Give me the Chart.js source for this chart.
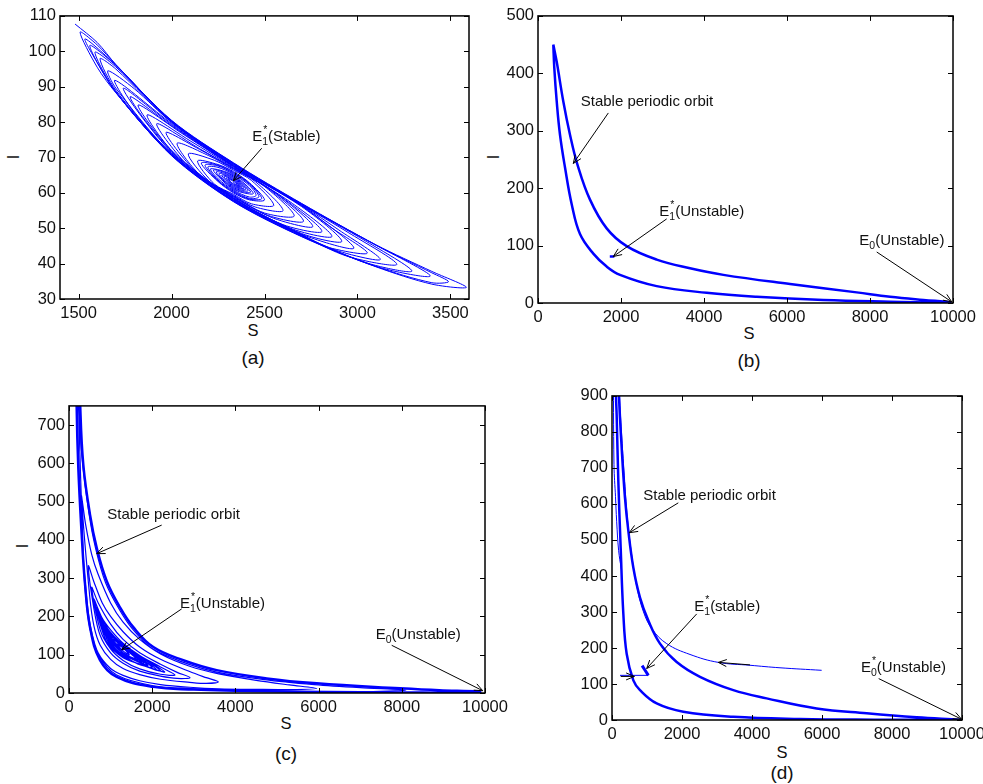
<!DOCTYPE html>
<html lang="en">
<head>
<meta charset="UTF-8" />
<title>S-I phase portraits</title>
<script src="https://cdn.jsdelivr.net/npm/chart.js"></script>
<style>
  body { margin: 0; background: #fff; font-family: "Liberation Sans", Arial, sans-serif; }
  #page { position: relative; width: 983px; height: 784px; overflow: hidden; }
  .panel { position: absolute; }
  .lbl { position: absolute; font-size: 16.5px; color: #111; transform: translate(-50%, -50%); white-space: nowrap; }
  .ylbl { transform: translate(-50%, -50%) rotate(-90deg); }
  .cap { position: absolute; font-size: 19px; color: #111; transform: translate(-50%, -50%); }
</style>
</head>
<body>
<div id="page">
  <div class="lbl" style="left:253px;top:330px">S</div>
  <div class="lbl ylbl" style="left:13px;top:157px">I</div>
  <div class="cap" style="left:253px;top:358px">(a)</div>

  <div class="lbl" style="left:749px;top:333px">S</div>
  <div class="lbl ylbl" style="left:493px;top:157px">I</div>
  <div class="cap" style="left:749px;top:361px">(b)</div>

  <div class="lbl" style="left:286px;top:723px">S</div>
  <div class="lbl ylbl" style="left:22px;top:546px">I</div>
  <div class="cap" style="left:286px;top:754px">(c)</div>

  <div class="lbl" style="left:782px;top:752px">S</div>
  <div class="cap" style="left:782px;top:773px">(d)</div>
</div>

<script>
  // ---- axes ----
  const aRangeS = [1400, 3600], aRangeI = [30, 110];
  const aTicksS = [1500, 2000, 2500, 3000, 3500];
  const aTicksI = [30, 40, 50, 60, 70, 80, 90, 100, 110];

  const bRangeS = [0, 10000], bRangeI = [0, 500];
  const bTicksS = [0, 2000, 4000, 6000, 8000, 10000];
  const bTicksI = [0, 100, 200, 300, 400, 500];

  const cRangeS = [0, 10000], cRangeI = [0, 750];
  const cTicksS = [0, 2000, 4000, 6000, 8000, 10000];
  const cTicksI = [0, 100, 200, 300, 400, 500, 600, 700];

  const dRangeS = [0, 10000], dRangeI = [0, 900];
  const dTicksS = [0, 2000, 4000, 6000, 8000, 10000];
  const dTicksI = [0, 100, 200, 300, 400, 500, 600, 700, 800, 900];

  // ---- (a) trajectory spiralling in to E1* ----
  const aTrajectory = [
    [1481,107.7],[1600,102.5],[1700,96.3],[2000,80.5],[2333,68.5],[2700,57.0],[3100,45.3],[3400,37.8],[3586,33.3],[3400,34.2],[3100,39.1],[2700,47.6],[2333,57.5],[2000,70.5],[1700,88.3],[1600,95.5],
    [1508,105.4],[1600,101.8],[1700,96.2],[2000,80.4],[2333,68.4],[2700,56.9],[3100,45.2],[3400,37.4],[3490,34.9],[3400,34.6],[3100,39.2],[2700,47.7],[2333,57.6],[2000,70.6],[1700,88.4],[1600,96.8],
    [1535,103.5],[1700,96.1],[2000,80.3],[2333,68.3],[2700,56.8],[3100,45.2],[3392,36.5],[3100,39.2],[2700,47.8],[2333,57.7],[2000,70.7],[1700,88.5],
    [1560,101.6],[1700,96.0],[2000,80.2],[2333,68.2],[2700,56.7],[3050,46.2],[3293,37.9],[3050,40.2],[2700,47.9],[2333,57.8],[2000,70.8],[1700,88.6],
    [1588,99.7],[1700,95.6],[2000,80.1],[2333,68.1],[2700,56.6],[2950,48.8],[3212,39.8],[2950,42.0],[2700,48.0],[2333,57.9],[2000,70.9],[1700,89.0],
    [1615,97.9],[1700,95.0],[2000,80.0],[2333,68.0],[2700,56.5],[2900,49.5],[3123,41.2],[2900,43.5],[2700,48.1],[2333,58.0],[2000,71.0],[1700,89.6],
    [1658,94.5],[1800,89.4],[2000,79.9],[2333,67.8],[2700,56.4],[2850,50.5],[3053,43.0],[2850,44.5],[2700,48.2],[2333,58.2],[2000,71.1],[1800,82.6],
    [1696,91.8],[2000,79.6],[2333,67.7],[2700,56.3],[2981,44.4],[2700,48.3],[2333,58.3],[2000,71.4],
    [1740,89.5],[2000,79.3],[2333,67.6],[2700,56.1],[2916,46.3],[2700,48.5],[2333,58.4],[2000,71.7],
    [1777,87.1],[2000,79.0],[2333,67.5],[2650,57.0],[2863,47.7],[2650,49.8],[2333,58.5],[2000,72.0],
    [1820,84.8],[2050,77.0],[2333,67.4],[2600,58.5],[2809,49.1],[2600,51.0],[2333,58.6],[2050,69.0],
    [1868,82.0],[2100,74.7],[2333,67.2],[2550,60.3],[2760,50.5],[2550,52.8],[2333,58.8],[2100,67.0],
    [1920,79.5],[2150,72.5],[2333,67.0],[2520,61.2],[2710,52.0],[2520,53.6],[2333,59.0],[2150,64.9],
    [1970,77.0],[2150,72.3],[2333,66.9],[2500,61.8],[2660,53.5],[2500,54.3],[2333,59.1],[2150,65.2],
    [2030,74.0],[2200,70.5],[2333,66.7],[2450,63.2],[2600,55.0],[2450,56.0],[2333,59.3],[2200,63.4],
    [2090,71.0],[2230,69.2],[2333,66.4],[2430,63.5],[2550,56.5],[2430,56.9],[2333,59.6],[2230,62.5],
    [2140,69.0],[2250,68.0],[2333,66.0],[2420,62.8],[2500,58.0],[2420,58.0],[2333,60.0],[2250,63.2],
    [2160,68.4],[2250,67.8],[2333,65.75],[2420,62.6],[2485,58.4],[2420,58.2],[2333,60.25],[2250,63.4],
    [2180,67.8],[2250,67.6],[2333,65.5],[2420,62.4],[2470,58.9],[2420,58.4],[2333,60.5],[2250,63.6],
    [2195,67.3],[2250,67.2],[2333,65.25],[2420,62.0],[2455,59.3],[2420,58.8],[2333,60.75],[2250,64.0],
    [2210,66.8],[2333,65.0],[2440,59.8],[2333,61.0],
    [2225,66.4],[2333,64.75],[2425,60.2],[2333,61.25],
    [2240,65.9],[2333,64.5],[2412,60.6],[2333,61.5],
    [2255,65.4],[2333,64.25],[2400,61.0],[2333,61.75],
    [2270,65.0],[2333,64.0],[2390,61.3],[2333,62.0],
    [2282,64.6],[2333,63.75],[2380,61.6],[2333,62.25],
    [2294,64.2],[2333,63.5],[2372,61.8],[2333,62.5],
    [2305,63.9],[2333,63.25],[2365,62.0],[2333,62.75],
    [2333,63.0]
  ];

  // ---- (b) stable periodic orbit and E1* ----
  const bOrbit = [
    [369,450],[393,409],[451,351],[530,293],[651,236],[812,172],[1012,120],[1333,86],[1655,63.4],[1976,49],[2860,29.4],[4065,17.8],[5270,10.9],[6877,5.2],[8484,2.3],[9930,0.5],
    [9930,1.5],[9287,5.4],[8484,11],[7680,18.5],[6074,33],[4467,49],[3663,60.5],[2860,75.6],[2137,99],[1655,130],[1253,180],[947,242],[771,293],[610,351],[451,420],[369,450]
  ];
  const bEquilibrium = [[1730,81],[1840,81]];

  // ---- (c) periodic orbit and trajectory leaving E1* ----
  const cOrbit = [
    [175,950],[184,750],[224,587],[305,414],[385,285],[505,172],[745,86],[1146,42],[2027,16],[3000,9],[4000,6],[5500,3.5],[7000,2],[8500,1.2],[9880,0.8],
    [9880,3.4],[8900,7],[7957,12.2],[5955,25.2],[4753,38.1],[3550,59.7],[2748,85.6],[2027,120],[1546,172],[1226,224],[906,293],[665,380],[505,466],[344,596],[270,750],[235,950]
  ];
  const cSpiral = [
    [1150,128],[1300,118],[1450,100],[1300,110],
    [1050,140],[1300,120],[1600,90],[1300,105],
    [1000,150],[1250,125],[1650,88],[1250,108],
    [950,158],[1200,128],[1450,106],[1750,80],[1450,96],[1200,114],
    [900,165],[1150,137],[1500,108],[1800,76],[1500,93],[1150,117],
    [850,175],[1100,140],[1400,113],[1900,72],[1400,95],[1100,118],
    [800,188],[1050,150],[1350,118],[1800,84],[2000,67],[1650,76],[1300,99],[1050,124],
    [750,200],[1000,155],[1300,122],[1700,92],[2100,62],[1700,75],[1300,97],[1000,128],
    [700,212],[950,165],[1300,124],[1750,92],[2200,58],[1750,73],[1300,94],[950,132],
    [650,225],[900,172],[1300,126],[1800,90],[2300,55],[1800,72],[1300,92],[900,135],
    [600,245],[800,195],[1000,165],[1300,130],[1700,98],[2200,68],[2548,47],[2200,49],[1700,63],[1300,85],[1000,115],[750,165],
    [545,276],[700,236],[1000,180],[1300,140],[1700,105],[2200,75],[2600,54],[2909,40],[2600,38],[2200,44],[1700,57],[1300,78],[1000,105],[750,150],[600,220],
    [465,332],[600,290],[800,235],[1000,200],[1300,160],[1700,120],[2200,88],[2900,56],[3300,40],[3590,29],[3300,25],[2900,28],[2200,36],[1700,48],[1300,64],[1000,88],[750,125],[600,175],[500,250],
    [300,514],[400,440],[550,360],[700,310],[1000,235],[1300,185],[1700,140],[2200,102],[2900,70],[3600,50],[4500,33],[5300,21],[5955,12],[5300,9],[4500,9.5],[3600,11],[2900,15],[2200,22],[1700,32],[1300,46],[1000,64],[700,105],[500,170],[380,280],[330,400],
    [215,800],[310,620],[480,470],[640,378],[880,288],[1200,220],[1520,168],[2000,116],[2700,82],[3500,56],[4700,35],[5900,22],[7000,14],[8100,8],
    [7000,3],[5500,4.5],[4000,7.5],[3000,11],[2027,19],[1146,47],[745,93],[505,180],[385,295],[305,425],[235,590],[195,760],[185,950]
  ];

  // ---- (d) periodic orbit, trajectory to it, trajectory to E1* ----
  const dOrbit = [
    [100,1000],[114,900],[133,847],[181,663],[248,478],[324,295],[419,184],[610,110],[800,83],[1277,46],[2037,23],[3466,9],[5371,3],[7500,1],[9950,0.3],
    [9950,0.8],[8705,7.5],[7276,18.5],[5847,32],[4419,60],[3466,83],[2514,120],[1848,161],[1371,212],[1038,276],[800,340],[610,423],[467,525],[371,617],[277,755],[200,900],[180,1000]
  ];
  const dToOrbit = [
    [5990,138],[4800,145],[3943,152],[3037,160],[2229,182],[1563,212],[1150,252],[900,300],[700,375],[560,460],[440,560],[350,680],[270,800],[215,900],[185,1000]
  ];
  const dToOrbitLeft = [[40,1000],[57,709],[100,620],[133,552],[190,470],[265,420]];
  const dToEquilibrium = [[229,124],[500,124],[800,124],[1038,124]];
  const dEquilibrium = [[1038,124],[940,139],[860,151]];

  // ---- drawing helpers ----
  const FONT = '"Liberation Sans", Arial, sans-serif';
  const BLUE = '#0000ff';

  function pts(list) { return list.map(([x, y]) => ({ x, y })); }

  function line(list, width, tension) {
    return { data: pts(list), showLine: true, borderColor: BLUE, borderWidth: width,
             pointRadius: 0, tension: tension, fill: false };
  }

  function arrow(ctx, x1, y1, x2, y2) {
    const ang = Math.atan2(y2 - y1, x2 - x1), len = 9, spread = 0.4;
    ctx.beginPath();
    ctx.moveTo(x1, y1); ctx.lineTo(x2, y2);
    ctx.moveTo(x2 - len * Math.cos(ang - spread), y2 - len * Math.sin(ang - spread));
    ctx.lineTo(x2, y2);
    ctx.lineTo(x2 - len * Math.cos(ang + spread), y2 - len * Math.sin(ang + spread));
    ctx.stroke();
  }

  function drawNote(ctx, xs, ys, n) {
    ctx.strokeStyle = '#000';
    ctx.fillStyle = '#111';
    ctx.lineWidth = 1;
    if (n.from) {
      arrow(ctx, xs.getPixelForValue(n.from[0]), ys.getPixelForValue(n.from[1]),
                 xs.getPixelForValue(n.to[0]), ys.getPixelForValue(n.to[1]));
    }
    if (!n.text) return;
    let px = xs.getPixelForValue(n.at[0]);
    const py = ys.getPixelForValue(n.at[1]);
    ctx.textBaseline = 'alphabetic';
    ctx.textAlign = 'left';
    ctx.font = '15px ' + FONT;
    ctx.fillText(n.text, px, py);
    px += ctx.measureText(n.text).width;
    if (n.sub || n.sup) {
      ctx.font = '10.5px ' + FONT;
      let w = 0;
      if (n.sub) { ctx.fillText(n.sub, px, py + 4); w = ctx.measureText(n.sub).width; }
      if (n.sup) { ctx.fillText(n.sup, px + 1, py - 8); w = Math.max(w, ctx.measureText(n.sup).width); }
      px += w;
      ctx.font = '15px ' + FONT;
    }
    if (n.rest) ctx.fillText(n.rest, px, py);
  }

  function framePlugin(notes) {
    return {
      id: 'frame',
      afterDatasetsDraw(chart) {
        const { ctx, chartArea: a, scales: { x, y } } = chart;
        ctx.save();
        ctx.strokeStyle = '#000';
        ctx.lineWidth = 1.5;
        ctx.strokeRect(a.left, a.top, a.right - a.left, a.bottom - a.top);
        ctx.lineWidth = 1;
        ctx.beginPath();
        x.ticks.forEach(t => {
          const p = Math.round(x.getPixelForValue(t.value)) + 0.5;
          ctx.moveTo(p, a.bottom); ctx.lineTo(p, a.bottom - 5);
          ctx.moveTo(p, a.top); ctx.lineTo(p, a.top + 5);
        });
        y.ticks.forEach(t => {
          const p = Math.round(y.getPixelForValue(t.value)) + 0.5;
          ctx.moveTo(a.left, p); ctx.lineTo(a.left + 5, p);
          ctx.moveTo(a.right, p); ctx.lineTo(a.right - 5, p);
        });
        ctx.stroke();
        notes.forEach(n => drawNote(ctx, x, y, n));
        ctx.restore();
      }
    };
  }

  function axis(range, ticks, isX) {
    return {
      type: 'linear', min: range[0], max: range[1],
      grid: { display: false, drawTicks: false },
      border: { display: false },
      ticks: { color: '#111', font: { family: FONT, size: 16.5 }, padding: isX ? 5 : 4,
               maxRotation: 0, autoSkip: false, callback: v => String(v) },
      afterBuildTicks: s => { s.ticks = ticks.map(v => ({ value: v })); },
      afterFit: s => { if (isX) s.height = 30; else s.width = 60; }
    };
  }

  // rect = chart area on the page (left, top, right, bottom)
  function makePanel(rect, rangeS, rangeI, ticksS, ticksI, datasets, notes) {
    const canvas = document.createElement('canvas');
    canvas.width = rect[2] - rect[0] + 90;
    canvas.height = rect[3] - rect[1] + 42;
    canvas.className = 'panel';
    canvas.style.left = (rect[0] - 60) + 'px';
    canvas.style.top = (rect[1] - 12) + 'px';
    document.getElementById('page').appendChild(canvas);
    new Chart(canvas, {
      type: 'scatter',
      data: { datasets },
      options: {
        responsive: false,
        animation: false,
        events: [],
        layout: { padding: { left: 0, top: 12, right: 30, bottom: 0 } },
        plugins: { legend: { display: false }, tooltip: { enabled: false } },
        scales: { x: axis(rangeS, ticksS, true), y: axis(rangeI, ticksI, false) }
      },
      plugins: [framePlugin(notes)]
    });
  }

  makePanel([60, 14, 469, 299], aRangeS, aRangeI, aTicksS, aTicksI,
    [line(aTrajectory, 1, 0.3)],
    [{ at: [2434, 74.6], text: 'E', sub: '1', sup: '*', rest: '(Stable)', from: [2485, 72.6], to: [2332, 63.4] }]);

  makePanel([538, 14, 953, 303], bRangeS, bRangeI, bTicksS, bTicksI,
    [line(bOrbit, 2.5, 0.4), line(bEquilibrium, 2.5, 0)],
    [{ at: [1029, 342.6], text: 'Stable periodic orbit', from: [1695, 331], to: [851, 243] },
     { at: [2923, 151], text: 'E', sub: '1', sup: '*', rest: '(Unstable)', from: [3101, 146.5], to: [1815, 81] },
     { at: [7743, 100.3], text: 'E', sub: '0', rest: '(Unstable)', from: [8162, 88.8], to: [9970, 2] }]);

  makePanel([69, 404, 485, 693], cRangeS, cRangeI, cTicksS, cTicksI,
    [line(cSpiral, 1.2, 0.3), line(cOrbit, 2.5, 0.4)],
    [{ at: [921, 454], text: 'Stable periodic orbit', from: [2228, 438.6], to: [666, 364] },
     { at: [2668, 223], text: 'E', sub: '1', sup: '*', rest: '(Unstable)', from: [2709, 219.8], to: [1266, 113] },
     { at: [7373, 141], text: 'E', sub: '0', rest: '(Unstable)', from: [7757, 124.6], to: [9945, 6] }]);

  makePanel([612, 394, 962, 720], dRangeS, dRangeI, dTicksS, dTicksI,
    [line(dToOrbit, 1, 0.4), line(dToOrbitLeft, 1, 0.4), line(dToEquilibrium, 1, 0),
     line(dOrbit, 2.5, 0.4), line(dEquilibrium, 3, 0)],
    [{ at: [894, 610], text: 'Stable periodic orbit', from: [1894, 603], to: [494, 520] },
     { at: [2351, 303.7], text: 'E', sub: '1', sup: '*', rest: '(stable)', from: [2420, 294.6], to: [991, 143] },
     { at: [7114, 132.5], text: 'E', sub: '0', sup: '*', rest: '(Unstable)', from: [7620, 115], to: [9990, 2] },
     { from: [3943, 153], to: [3037, 160] },
     { from: [250, 121], to: [640, 121] }]);
</script>
</body>
</html>
